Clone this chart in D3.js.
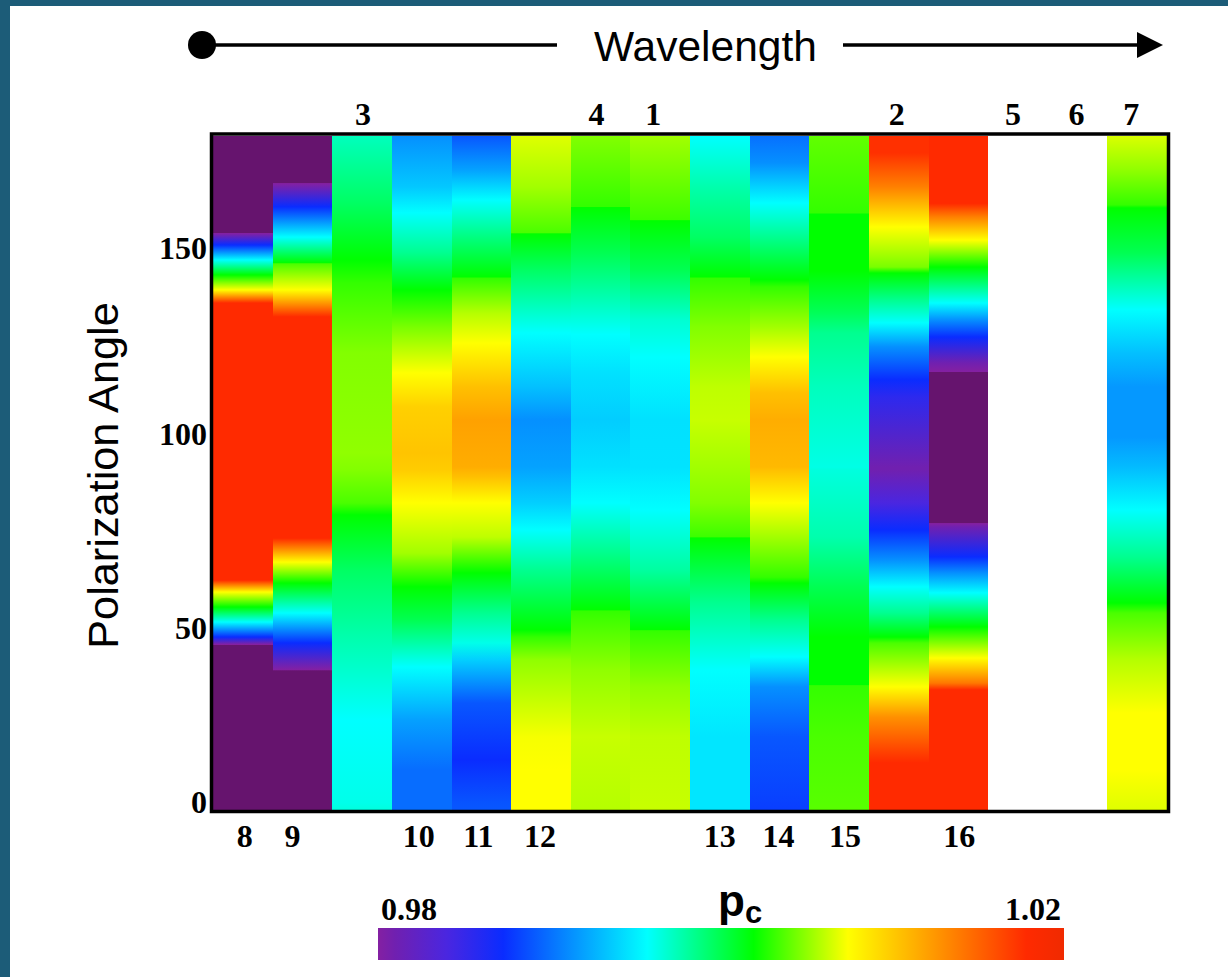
<!DOCTYPE html>
<html>
<head>
<meta charset="utf-8">
<script src="https://cdn.jsdelivr.net/npm/d3@7"></script>
<style>
  body { margin: 0; background: #fff; }
  svg { display: block; }
</style>
</head>
<body>
<script>
// labels for the 16 wavelength bands, by column
const topLabels = ['', '', '3', '', '', '', '4', '1', '', '', '', '2', '', '5', '6', '7']
const bottomLabels = ['8', '9', '', '10', '11', '12', '', '', '13', '14', '15', '', '16', '', '', '']
const angleTicks = [0, 50, 100, 150]
const legendTicks = ['0.98', '1.02']

// colour landmarks of the pc colour bar
const pcStops = [0.98, 0.981, 0.984, 0.9873, 0.9957, 1.0019, 1.0074, 1.0178, 1.02]
const pcColors = ['#8420a2', '#7020b0', '#4a26e0', '#0a2cff', '#00ffff', '#00ff00', '#ffff00', '#ff2a00', '#f02a00']
const belowRange = '#66146e'

// polarization angle (deg) of the knots, top to bottom
const bandAngles = [
  [180, 154.2, 154, 150.9, 146.9, 142.9, 138.9, 135.4, 61.4, 58.2, 54.2, 50.2, 46.2, 44.2, 44, 0],
  [180, 167.5, 167.3, 161.1, 153, 146.1, 145.9, 138.9, 131.7, 72.6, 66.2, 60.6, 52.6, 44.6, 37.4, 37.2, 0],
  [180, 162.1, 146.9, 140.8, 122.1, 95.4, 90.8, 82, 78.8, 64.1, 46.2, 24, 1.9, 0],
  [180, 166.4, 159.5, 148.8, 138.9, 129, 116.7, 107.6, 95.4, 90.8, 82, 68.6, 59.6, 50.7, 38.2, 24, 10.7, 1.9, 0],
  [180, 170.9, 162.9, 153, 142.4, 142, 132.7, 124.7, 113, 104.2, 91.6, 88.9, 82, 72.9, 63.3, 52.6, 44.6, 40.1, 28.6, 13.4, 1.9, 0],
  [180, 166.4, 154.1, 153.9, 144.2, 127.4, 113, 104.2, 91.6, 82, 74.8, 64.1, 48.1, 46.2, 40.1, 19.5, 10.7, 0],
  [180, 161.1, 160.9, 148.8, 127, 116.7, 104.2, 91.6, 82, 68.6, 53.4, 53.2, 37.4, 19.5, 0],
  [180, 157.6, 157.4, 144.2, 130.9, 121, 104.2, 91.6, 80.1, 64.1, 48.1, 47.9, 32.9, 19.5, 0],
  [180, 166.4, 153, 142.4, 142, 129, 113, 104.2, 91.6, 82, 72.9, 72.7, 55.3, 37.4, 19.5, 0],
  [180, 172.8, 162.1, 153, 141.6, 139.7, 129, 121, 111.4, 104.2, 91.6, 90.8, 82, 72.9, 62.2, 60.6, 50.7, 40.9, 32.9, 19.5, 0],
  [180, 159.4, 159.2, 144, 133, 127.4, 113, 91.6, 90.8, 72.9, 59.6, 46.2, 33.5, 33.2, 19.5, 0],
  [180, 175.5, 166.4, 155.7, 145, 143.4, 136.2, 130.1, 123.7, 114.9, 110.3, 91.6, 90.8, 82, 74.8, 66.8, 59.6, 52.6, 46.2, 44.6, 32.9, 24.8, 16, 12.6, 0],
  [180, 162, 158.4, 152.2, 145, 135.4, 130.9, 126.3, 119.4, 117.1, 116.9, 76.7, 76.5, 75.6, 67.6, 63.3, 58, 48.9, 40.6, 33.9, 32.1, 0],
  [],
  [],
  [180, 170.9, 161.6, 160.8, 148.8, 133.6, 122.1, 113, 99.6, 91.6, 80.1, 67.6, 55.3, 52.6, 40.1, 25.9, 10.7, 0]
]

// pc value at those knots
const bandValues = [
  [.975, .975, .98, .9873, .9957, 1.0019, 1.0074, 1.0178, 1.0178, 1.0074, 1.0019, .9957, .9873, .98, .975, .975],
  [.975, .975, .98, .9873, .9957, 1.0019, 1.0035, 1.0074, 1.0178, 1.0178, 1.0074, 1.0019, .9957, .9873, .98, .975, .975],
  [.9973, .9995, 1.0019, 1.003, 1.0047, 1.005, 1.0047, 1.0035, 1.0019, .9995, .9977, .9957, .9962, .9965],
  [.9913, .9935, .9957, .9984, 1.0019, 1.0045, 1.0074, 1.0097, 1.0103, 1.0099, 1.0074, 1.0054, 1.0019, .9999, .9957, .9919, .9899, .9899, .9899],
  [.989, .992, .9957, .9988, 1.0019, 1.003, 1.0058, 1.0074, 1.0105, 1.012, 1.0114, 1.0105, 1.0074, 1.006, 1.0019, .9984, .9962, .9938, .989, .9873, .9889, .989],
  [1.0067, 1.0054, 1.0035, 1.0019, .9995, .9957, .9932, .9913, .992, .9938, .9957, .9984, 1.0019, 1.003, 1.005, 1.0072, 1.0074, 1.0074],
  [1.0047, 1.003, 1.0019, .9999, .9957, .9945, .9937, .9945, .9957, .9985, 1.0019, 1.003, 1.005, 1.0062, 1.0058],
  [1.0054, 1.0032, 1.0019, .9999, .9968, .9957, .9945, .9946, .9957, .998, 1.0019, 1.003, 1.005, 1.006, 1.0062],
  [.9957, .9977, .9995, 1.0019, 1.003, 1.0047, 1.006, 1.0062, 1.0054, 1.0047, 1.0032, 1.0019, .9984, .9957, .9947, .9947],
  [.99, .9913, .9957, .9984, 1.0019, 1.003, 1.0054, 1.0074, 1.0105, 1.0114, 1.0108, 1.0105, 1.0074, 1.0054, 1.003, 1.0019, .9984, .9957, .9913, .989, .988],
  [1.004, 1.003, 1.0019, 1.0019, .9998, .9984, .9973, .9963, .9965, .9977, .9999, 1.0019, 1.0019, 1.003, 1.0035, 1.0038],
  [1.0175, 1.0175, 1.0136, 1.0074, 1.0045, 1.0019, .9984, .9957, .9913, .9873, .9855, .981, .981, .984, .9873, .9913, .9957, .9984, 1.0019, 1.0035, 1.0074, 1.0128, 1.0165, 1.0178, 1.0178],
  [1.0178, 1.0178, 1.0136, 1.0074, 1.0019, .9957, .9913, .9873, .981, .98, .975, .975, .98, .981, .9873, .9913, .9957, 1.0019, 1.0074, 1.014, 1.0178, 1.0178],
  [],
  [],
  [1.0066, 1.005, 1.003, 1.0019, .9999, .9957, .9932, .9916, .9916, .993, .9957, .9984, 1.0019, 1.0035, 1.0058, 1.0074, 1.0074, 1.0067]
]

const width = 1228, height = 977
const plot = {left: 213, right: 1167, top: 136, bottom: 810}
const legend = {left: 378, right: 1064, top: 928, bottom: 960}
const serif = '"Liberation Serif", serif'
const sans = '"Liberation Sans", sans-serif'

const svg = d3.select('body').append('svg')
    .attr('width', width)
    .attr('height', height)

// dark frame at the top and left of the slide
svg.append('rect').attr('width', width).attr('height', 6).attr('fill', '#1c5c78')
svg.append('rect').attr('width', 10).attr('height', height).attr('fill', '#1c5c78')

const defs = svg.append('defs')

const xScale = d3.scaleBand()
    .domain(d3.range(bandValues.length))
    .range([plot.left, plot.right])

const yScale = d3.scaleLinear()
    .domain([0, 180])
    .range([plot.bottom, plot.top])

const pcScale = d3.scaleLinear()
    .domain(pcStops)
    .range(pcColors)
    .clamp(true)

const colorOf = v => v < pcStops[0] ? belowRange : pcScale(v)

// one vertical gradient per band, stops placed with yScale
bandValues.forEach((values, i) => {
    if (!values.length) return
    const grad = defs.append('linearGradient')
        .attr('id', 'band' + i)
        .attr('gradientUnits', 'userSpaceOnUse')
        .attr('x1', 0).attr('x2', 0)
        .attr('y1', plot.top).attr('y2', plot.bottom)
    grad.selectAll('stop').data(values)
        .enter()
        .append('stop')
        .attr('offset', (d, j) => (yScale(bandAngles[i][j]) - plot.top) / (plot.bottom - plot.top))
        .attr('stop-color', d => colorOf(d))
})

svg.selectAll('.band').data(bandValues.map((d, i) => i).filter(i => bandValues[i].length))
    .enter()
    .append('rect')
    .attr('class', 'band')
    .attr('x', d => xScale(d))
    .attr('y', plot.top)
    .attr('width', xScale.bandwidth())
    .attr('height', plot.bottom - plot.top)
    .attr('shape-rendering', 'crispEdges')
    .attr('fill', d => 'url(#band' + d + ')')

// plot frame
svg.append('rect')
    .attr('x', plot.left - 1.5)
    .attr('y', plot.top - 2)
    .attr('width', plot.right - plot.left + 3)
    .attr('height', plot.bottom - plot.top + 3.5)
    .attr('fill', 'none')
    .attr('stroke', 'black')
    .attr('stroke-width', 3.5)

// y axis, labels were placed by hand in the original so 0 and 50 get nudged
const yNudge = {0: -8, 50: 6, 100: -1, 150: 0}
const yAxis = svg.append('g')
    .attr('transform', 'translate(' + (plot.left - 6) + ',0)')
    .call(d3.axisLeft(yScale).tickValues(angleTicks).tickSize(0).tickPadding(0))
yAxis.select('.domain').remove()
yAxis.selectAll('text')
    .attr('dy', d => yNudge[d] + 10)
    .attr('font-family', serif)
    .attr('font-weight', 'bold')
    .attr('font-size', 32)

// band numbers, nudged to where the original has them
const topNudge = {'3': 1, '4': -4, '1': -7, '2': -2, '5': -5, '6': -1, '7': -6}
const bottomNudge = {'8': 2, '9': -10, '10': -3, '11': -3, '12': -1, '13': 0, '14': -1, '15': 6, '16': 1}

svg.append('g').selectAll('text').data(topLabels)
    .enter()
    .append('text')
    .attr('x', (d, i) => xScale(i) + xScale.bandwidth() / 2 + (topNudge[d] || 0))
    .attr('y', 125)
    .attr('text-anchor', 'middle')
    .attr('font-family', serif)
    .attr('font-weight', 'bold')
    .attr('font-size', 32)
    .text(d => d)

svg.append('g').selectAll('text').data(bottomLabels)
    .enter()
    .append('text')
    .attr('x', (d, i) => xScale(i) + xScale.bandwidth() / 2 + (bottomNudge[d] || 0))
    .attr('y', 847)
    .attr('text-anchor', 'middle')
    .attr('font-family', serif)
    .attr('font-weight', 'bold')
    .attr('font-size', 32)
    .text(d => d)

// y axis title
svg.append('text')
    .attr('transform', 'translate(118,475.5) rotate(-90)')
    .attr('text-anchor', 'middle')
    .attr('font-family', sans)
    .attr('font-size', 43.3)
    .text('Polarization Angle')

// wavelength arrow
svg.append('circle').attr('cx', 202).attr('cy', 45).attr('r', 14).attr('fill', 'black')
svg.append('line').attr('x1', 202).attr('x2', 557).attr('y1', 45).attr('y2', 45)
    .attr('stroke', 'black').attr('stroke-width', 3.5)
svg.append('line').attr('x1', 843).attr('x2', 1140).attr('y1', 45).attr('y2', 45)
    .attr('stroke', 'black').attr('stroke-width', 3.5)
svg.append('path').attr('d', 'M1137,32L1163,45L1137,58Z').attr('fill', 'black')
svg.append('text')
    .attr('x', 705.5)
    .attr('y', 61)
    .attr('text-anchor', 'middle')
    .attr('font-family', sans)
    .attr('font-size', 42.5)
    .text('Wavelength')

// colour bar
const legendScale = d3.scaleLinear()
    .domain([pcStops[0], pcStops[pcStops.length - 1]])
    .range([0, 1])

const legendGrad = defs.append('linearGradient').attr('id', 'legendGrad')
legendGrad.selectAll('stop').data(pcStops)
    .enter()
    .append('stop')
    .attr('offset', d => legendScale(d))
    .attr('stop-color', d => pcScale(d))

svg.append('rect')
    .attr('x', legend.left)
    .attr('y', legend.top)
    .attr('width', legend.right - legend.left)
    .attr('height', legend.bottom - legend.top)
    .attr('fill', 'url(#legendGrad)')

svg.append('text')
    .attr('x', 381).attr('y', 920)
    .attr('font-family', serif).attr('font-weight', 'bold').attr('font-size', 32)
    .text(legendTicks[0])
svg.append('text')
    .attr('x', 1061).attr('y', 920)
    .attr('text-anchor', 'end')
    .attr('font-family', serif).attr('font-weight', 'bold').attr('font-size', 32)
    .text(legendTicks[1])

const pcLabel = svg.append('text')
    .attr('x', 718).attr('y', 916)
    .attr('font-family', sans).attr('font-weight', 'bold').attr('font-size', 44)
pcLabel.append('tspan').text('p')
pcLabel.append('tspan').attr('dy', 7).attr('font-size', 31).text('c')
</script>
</body>
</html>
